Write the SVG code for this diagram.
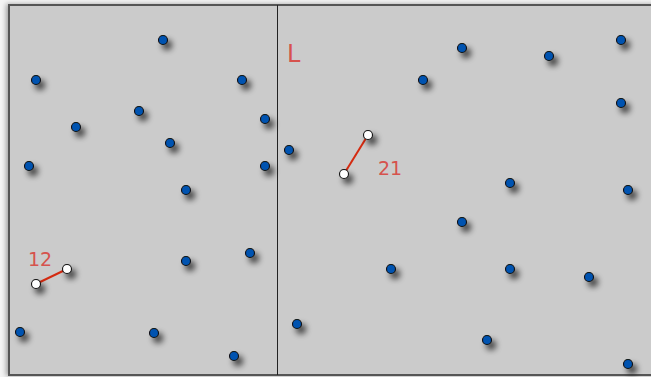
<svg xmlns="http://www.w3.org/2000/svg" width="651" height="377" viewBox="0 0 651 377">
<defs>
<filter id="sh" x="-150%" y="-150%" width="400%" height="400%">
<feGaussianBlur in="SourceAlpha" stdDeviation="3"/>
<feOffset dx="3.5" dy="4.5" result="b"/>
<feComponentTransfer><feFuncA type="linear" slope="0.75"/></feComponentTransfer>
<feMerge><feMergeNode/><feMergeNode in="SourceGraphic"/></feMerge>
</filter>
<filter id="fs" x="-5%" y="-5%" width="110%" height="110%">
<feGaussianBlur in="SourceAlpha" stdDeviation="2.5"/>
<feOffset dx="-2" dy="0"/>
<feComponentTransfer><feFuncA type="linear" slope="0.35"/></feComponentTransfer>
<feMerge><feMergeNode/><feMergeNode in="SourceGraphic"/></feMerge>
</filter>
<style>
.d{fill:#0052b0;stroke:#111;stroke-width:1.1}
.w{fill:#fff;stroke:#111;stroke-width:1.1}
.e{stroke:#d42a10;stroke-width:2;fill:none}
.t{font-family:"DejaVu Sans","Liberation Sans",sans-serif;font-size:19px;fill:#d6524d}
</style>
</defs>
<rect width="651" height="377" fill="#f4f4f4"/>
<rect x="9" y="5" width="660" height="370" fill="#cbcbcb" stroke="#555" stroke-width="2" filter="url(#fs)"/>
<line x1="277.5" y1="5" x2="277.5" y2="375" stroke="#222" stroke-width="1"/>
<text class="t" x="287" y="62" style="font-size:24px">L</text>
<text class="t" x="378" y="175">21</text>
<text class="t" x="28" y="266">12</text>
<g id="connectors">
<line class="e" x1="368" y1="135" x2="344" y2="174"/>
<line class="e" x1="67" y1="269" x2="36" y2="284"/>
</g>
<g id="nodes" filter="url(#sh)">
<g id="n1"><circle class="d" cx="163" cy="40" r="4.5"/></g>
<g id="n2"><circle class="d" cx="36" cy="80" r="4.5"/></g>
<g id="n3"><circle class="d" cx="242" cy="80" r="4.5"/></g>
<g id="n4"><circle class="d" cx="139" cy="111" r="4.5"/></g>
<g id="n5"><circle class="d" cx="76" cy="127" r="4.5"/></g>
<g id="n6"><circle class="d" cx="265" cy="119" r="4.5"/></g>
<g id="n7"><circle class="d" cx="170" cy="143" r="4.5"/></g>
<g id="n8"><circle class="d" cx="29" cy="166" r="4.5"/></g>
<g id="n9"><circle class="d" cx="265" cy="166" r="4.5"/></g>
<g id="n10"><circle class="d" cx="289" cy="150" r="4.5"/></g>
<g id="n11"><circle class="d" cx="186" cy="190" r="4.5"/></g>
<g id="n12"><circle class="d" cx="462" cy="48" r="4.5"/></g>
<g id="n13"><circle class="d" cx="549" cy="56" r="4.5"/></g>
<g id="n14"><circle class="d" cx="621" cy="40" r="4.5"/></g>
<g id="n15"><circle class="d" cx="423" cy="80" r="4.5"/></g>
<g id="n16"><circle class="d" cx="621" cy="103" r="4.5"/></g>
<g id="n17"><circle class="d" cx="510" cy="183" r="4.5"/></g>
<g id="n18"><circle class="d" cx="628" cy="190" r="4.5"/></g>
<g id="n19"><circle class="d" cx="186" cy="261" r="4.5"/></g>
<g id="n20"><circle class="d" cx="250" cy="253" r="4.5"/></g>
<g id="n21"><circle class="d" cx="20" cy="332" r="4.5"/></g>
<g id="n22"><circle class="d" cx="154" cy="333" r="4.5"/></g>
<g id="n23"><circle class="d" cx="234" cy="356" r="4.5"/></g>
<g id="n24"><circle class="d" cx="297" cy="324" r="4.5"/></g>
<g id="n25"><circle class="d" cx="462" cy="222" r="4.5"/></g>
<g id="n26"><circle class="d" cx="391" cy="269" r="4.5"/></g>
<g id="n27"><circle class="d" cx="510" cy="269" r="4.5"/></g>
<g id="n28"><circle class="d" cx="589" cy="277" r="4.5"/></g>
<g id="n29"><circle class="d" cx="487" cy="340" r="4.5"/></g>
<g id="n30"><circle class="d" cx="628" cy="364" r="4.5"/></g>
<g id="w1"><circle class="w" cx="368" cy="135" r="4.5"/></g>
<g id="w2"><circle class="w" cx="344" cy="174" r="4.5"/></g>
<g id="w3"><circle class="w" cx="67" cy="269" r="4.5"/></g>
<g id="w4"><circle class="w" cx="36" cy="284" r="4.5"/></g>
</g>
</svg>
